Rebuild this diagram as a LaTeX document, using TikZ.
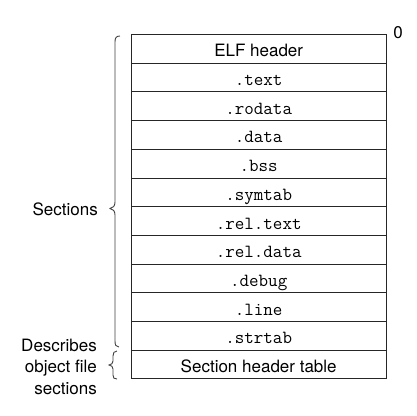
\documentclass[tikz,border=0pt]{standalone}
\usepackage{fontspec}
\setsansfont{TeX Gyre Heros}
\begin{document}
\begin{tikzpicture}[x=1pt,y=-1pt,
  row/.style={draw=black!85,line width=0.9pt,minimum width=255.5pt,minimum height=28.7pt,inner sep=0pt,anchor=north west,text height=16pt,text depth=0pt},
  sans/.style={font=\sffamily\fontsize{17}{20}\selectfont},
  mono/.style={font=\ttfamily\fontsize{18.5}{20}\selectfont},
  lbl/.style={font=\sffamily\fontsize{17}{21.5}\selectfont,align=right,anchor=east,inner sep=0pt},
  brc/.style={draw=black!75,line width=0.9pt}]
\useasboundingbox (0,0) rectangle (416,416);
\node[row,sans] (elf) at (130.5,34) {ELF header};
\node[row,mono] (text) at (130.5,62.7) {.text};
\node[row,mono] (rodata) at (130.5,91.4) {.rodata};
\node[row,mono] (data) at (130.5,120.1) {.data};
\node[row,mono] (bss) at (130.5,148.8) {.bss};
\node[row,mono] (symtab) at (130.5,177.5) {.symtab};
\node[row,mono] (reltext) at (130.5,206.2) {.rel.text};
\node[row,mono] (reldata) at (130.5,234.9) {.rel.data};
\node[row,mono] (debug) at (130.5,263.6) {.debug};
\node[row,mono] (line) at (130.5,292.3) {.line};
\node[row,mono] (strtab) at (130.5,321) {.strtab};
\node[row,sans] (sht) at (130.5,349.7) {Section header table};
\node[sans,inner sep=0pt] (zero) at (398,33) {0};
\node[lbl] (sections) at (98,209) {Sections};
\node[lbl] (describes) at (97,366.5) {Describes\\object file\\sections};
% Sections brace
\draw[brc] (120,36) .. controls (116,36) and (115,38) .. (115,42)
  -- (115,202) .. controls (115,206) and (113,208) .. (110,208.5)
  .. controls (113,209) and (115,211) .. (115,215)
  -- (115,341) .. controls (115,345) and (116,347) .. (119,347);
% Header table brace
\draw[brc] (117,351) .. controls (114,351) and (113,353) .. (113,356)
  -- (113,361) .. controls (113,363.5) and (111.5,364.5) .. (109,365)
  .. controls (111.5,365.5) and (113,366.5) .. (113,369)
  -- (113,375) .. controls (113,378) and (114,379) .. (117,379);
\end{tikzpicture}
\end{document}
